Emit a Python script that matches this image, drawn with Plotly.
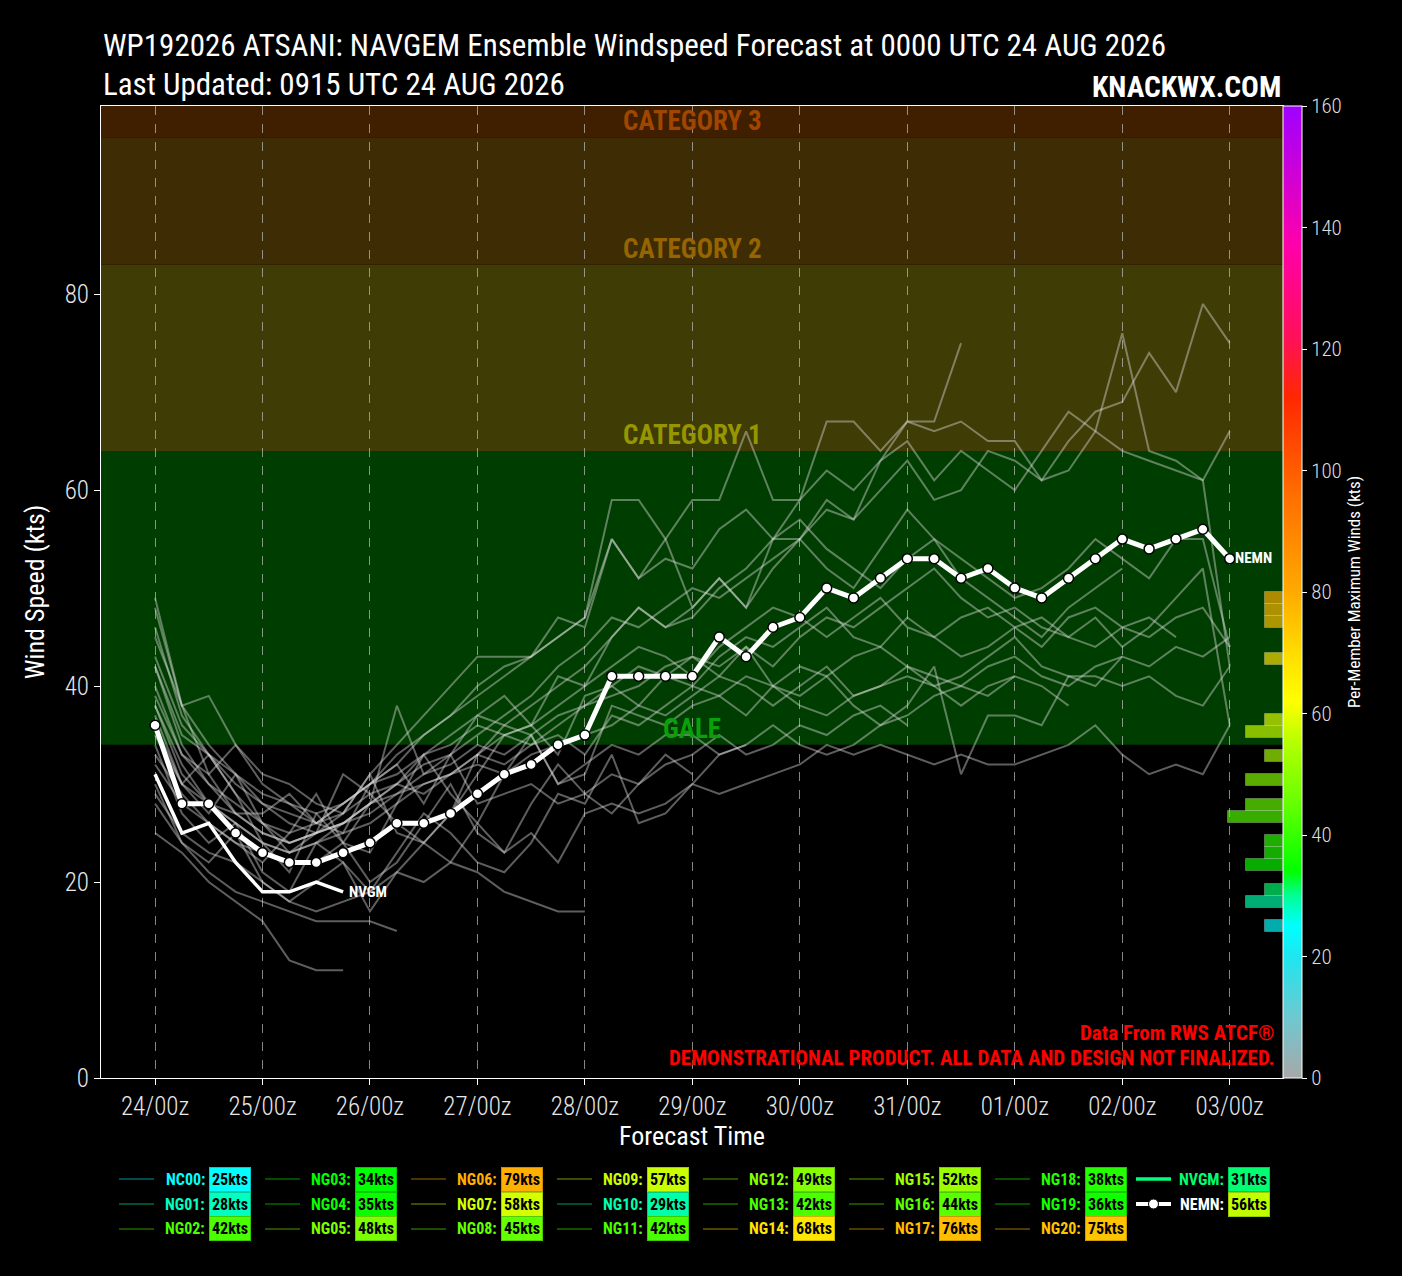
import numpy as np
import plotly.graph_objects as go

FONT = "Roboto Condensed, Noto Sans Condensed, Roboto, sans-serif"

# ---------------- data ----------------
forecast_hours = list(range(0, 241, 6))
tick_hours = list(range(0, 241, 24))
tick_labels = ["24/00z", "25/00z", "26/00z", "27/00z", "28/00z", "29/00z",
               "30/00z", "31/00z", "01/00z", "02/00z", "03/00z"]

nemn = [36, 28, 28, 25, 23, 22, 22, 23, 24, 26, 26, 27, 29, 31, 32, 34, 35, 41, 41, 41, 41,
        45, 43, 46, 47, 50, 49, 51, 53, 53, 51, 52, 50, 49, 51, 53, 55, 54, 55, 56, 53]
nvgm = [31, 25, 26, 22, 19, 19, 20, 19]

nc00 = [25, 23, 20, 18, 16, 12, 11, 11]
ng01 = [28, 24, 21, 19, 18, 17, 16, 16, 16, 15]
ng02 = [38, 31, 28, 26, 24, 23, 24, 26, 27, 29, 30, 31, 32, 31, 33, 34, 35, 36, 38, 37,
        39, 41, 40, 38, 40, 42, 39, 40, 41, 40, 38, 40, 41]
ng03 = [34, 27, 24, 26, 21, 19, 24, 22, 19, 23, 27, 25, 22, 21, 24, 29, 28, 33, 26, 27, 30, 33, 34]
ng04 = [35, 30, 33, 29, 24, 21, 27, 24, 20, 22, 26, 30, 25, 23, 28, 32, 29, 27, 30, 33, 31]
ng05 = [46, 37, 33, 31, 28, 27, 26, 28, 30, 31, 33, 34, 36, 35, 34, 36, 38, 40, 42, 41,
        40, 43, 45, 44, 46, 48, 45, 44, 47, 45, 43, 44, 46, 47, 45, 44, 46, 47, 45]
ng06 = [48, 38, 34, 31, 29, 28, 27, 28, 30, 32, 35, 37, 40, 42, 43, 45, 47, 59, 59, 55,
        48, 51, 48, 55, 55, 58, 57, 63, 67, 66, 67, 65, 65, 61, 65, 68, 69, 74, 70, 79, 75]
ng07 = [43, 36, 33, 30, 28, 26, 25, 26, 28, 30, 32, 33, 35, 37, 39, 42, 44, 47, 46, 48,
        50, 49, 51, 53, 55, 52, 50, 54, 58, 55, 53, 51, 49, 50, 52, 55, 53, 51, 55, 55, 44]
ng08 = [45, 38, 31, 34, 30, 28, 26, 27, 31, 25, 24, 27, 33, 36, 35, 30, 31, 38, 37, 36,
        38, 39, 37, 40, 42, 41, 43, 44, 42, 40, 41, 43, 45, 42, 41, 40, 43, 42, 44, 43, 45]
ng09 = [49, 38, 39, 34, 31, 30, 28, 27, 29, 30, 33, 35, 37, 36, 38, 40, 42, 45, 48, 46,
        47, 50, 52, 55, 57, 54, 52, 50, 53, 55, 51, 49, 47, 45, 48, 50, 52]
ng10 = [29, 25, 23, 22, 20, 18, 17, 18, 19, 21, 20, 22, 21, 19, 18, 17, 17]
ng11 = [42, 34, 30, 27, 25, 24, 25, 26, 28, 30, 29, 31, 33, 32, 34, 35, 33, 37, 36, 38,
        40, 39, 41, 40, 38, 37, 39, 40, 42, 41, 40, 39, 41, 40, 38]
ng12 = [40, 33, 31, 27, 27, 29, 26, 25, 30, 32, 28, 33, 37, 39, 36, 41, 40, 42, 44, 43,
        41, 44, 46, 48, 47, 45, 47, 49, 46, 45, 47, 48, 46, 44, 47, 48, 46, 45, 47, 48, 44]
ng13 = [33, 29, 26, 24, 22, 25, 29, 24, 23, 28, 33, 29, 26, 31, 35, 30, 32, 34, 33, 35,
        35, 33, 34, 36, 34, 33, 34, 36, 38, 42, 31, 37, 37, 36, 41, 41, 40, 41, 39, 38, 42]
ng14 = [39, 33, 30, 28, 26, 25, 26, 28, 30, 33, 35, 37, 39, 41, 43, 45, 47, 55, 51, 53,
        52, 56, 58, 55, 59, 62, 60, 63, 65, 61, 64, 62, 60, 64, 68, 66, 64, 63, 62, 61, 66]
ng15 = [36, 30, 28, 27, 25, 24, 25, 26, 28, 29, 31, 32, 34, 33, 35, 37, 38, 39, 40, 42,
        43, 41, 44, 42, 45, 47, 46, 48, 50, 52, 49, 47, 48, 46, 45, 47, 44, 46, 49, 52, 36]
ng16 = [37, 30, 27, 31, 26, 23, 25, 31, 29, 26, 24, 27, 31, 35, 36, 33, 39, 40, 38, 41,
        43, 42, 44, 40, 39, 41, 38, 36, 37, 39, 40, 42, 43, 41, 40, 42, 43]
ng17 = [38, 32, 28, 26, 24, 23, 24, 25, 26, 28, 30, 31, 33, 35, 36, 38, 40, 45, 48, 46,
        48, 51, 48, 52, 55, 59, 57, 60, 63, 59, 60, 64, 63, 61, 62, 66, 76, 64, 63, 61, 42]
ng18 = [32, 28, 26, 24, 23, 22, 22, 24, 28, 38, 31, 33, 28, 29, 30, 28, 29, 31, 30, 32,
        33, 35, 33, 34, 36, 35, 37, 38, 36]
ng19 = [30, 24, 22, 25, 20, 18, 20, 22, 17, 21, 24, 22, 26, 23, 25, 22, 27, 28, 27, 28,
        30, 29, 30, 31, 32, 34, 33, 34, 33, 32, 33, 32, 32, 33, 34, 36, 33, 31, 32, 31, 36]
ng20 = [42, 35, 33, 29, 26, 24, 25, 27, 31, 34, 37, 40, 43, 43, 43, 47, 46, 55, 51, 55,
        59, 59, 66, 59, 59, 67, 67, 64, 67, 67, 75]

member_names = ["NC00", "NG01", "NG02", "NG03", "NG04", "NG05", "NG06", "NG07", "NG08", "NG09",
                "NG10", "NG11", "NG12", "NG13", "NG14", "NG15", "NG16", "NG17", "NG18", "NG19", "NG20"]
member_series = [nc00, ng01, ng02, ng03, ng04, ng05, ng06, ng07, ng08, ng09,
                 ng10, ng11, ng12, ng13, ng14, ng15, ng16, ng17, ng18, ng19, ng20]

band_names = ["GALE", "CATEGORY 1", "CATEGORY 2", "CATEGORY 3"]
band_lows = [34, 64, 83, 96]
band_highs = [64, 83, 96, 99.2]

# ---------------- styling ----------------
band_fill = ["rgb(0,61,0)", "rgb(64,60,6)", "rgb(62,44,4)", "rgb(64,30,0)"]
band_text = ["rgb(10,160,10)", "rgb(150,150,0)", "rgb(150,100,0)", "rgb(160,70,0)"]

cmap_vals = [0, 10, 20, 25, 30, 34, 45, 55, 62, 70, 80, 96, 112, 122, 137, 160]
cmap_rgb = [(168, 168, 168), (110, 200, 208), (30, 230, 240), (0, 255, 255), (0, 255, 150),
            (0, 255, 0), (100, 255, 0), (180, 255, 0), (255, 255, 0), (255, 220, 0),
            (255, 170, 0), (255, 110, 0), (255, 40, 0), (255, 16, 90), (255, 0, 170), (160, 0, 255)]


def cmap(v):
    return tuple(int(round(np.interp(v, cmap_vals, [c[k] for c in cmap_rgb]))) for k in range(3))


def rgb(c, a=None):
    if a is None:
        return "rgb(%d,%d,%d)" % c
    return "rgba(%d,%d,%d,%.2f)" % (c[0], c[1], c[2], a)


colorscale = [[v / 160.0, rgb(c)] for v, c in zip(cmap_vals, cmap_rgb)]

L, R, T, B = 101, 1283, 106, 1078
PW, PH = R - L, B - T


def px(x):
    return (x - L) / PW


def py(y):
    return (B - y) / PH


fig = go.Figure()

# ---------------- histogram of per-member maxima ----------------
member_max = [max(s) for s in member_series]
all_max = member_max + [max(nvgm), max(nemn)]
edges = np.arange(0, 162, 2)
counts, _ = np.histogram(all_max, bins=edges)
centers = (edges[:-1] + edges[1:]) / 2
nz = counts > 0
fig.add_trace(go.Bar(
    x=counts[nz], y=centers[nz], orientation="h", width=2, base=0,
    xaxis="x2", yaxis="y2",
    marker=dict(color=[rgb(cmap(c), 0.68) for c in centers[nz]],
                line=dict(color="rgba(255,255,255,0.25)", width=1)),
    hoverinfo="skip"))

# ---------------- member lines ----------------
for name, s in zip(member_names, member_series):
    fig.add_trace(go.Scatter(
        x=forecast_hours[:len(s)], y=s, mode="lines", name=name,
        line=dict(color="rgba(225,225,225,0.42)", width=2), hoverinfo="skip"))

fig.add_trace(go.Scatter(x=forecast_hours[:len(nvgm)], y=nvgm, mode="lines", name="NVGM",
                         line=dict(color="white", width=3.5), hoverinfo="skip"))
fig.add_trace(go.Scatter(x=forecast_hours[:len(nemn)], y=nemn, mode="lines+markers", name="NEMN",
                         line=dict(color="white", width=5),
                         marker=dict(size=10, color="white", line=dict(color="black", width=1.5)),
                         hoverinfo="skip"))

fig.add_trace(go.Scatter(
    x=[-1000], y=[-1000], mode="markers", showlegend=False, hoverinfo="skip",
    marker=dict(color=[0], cmin=0, cmax=160, colorscale=colorscale, showscale=True,
                colorbar=dict(x=1.0, xanchor="left", xpad=0, y=0.5, yanchor="middle", ypad=0,
                              len=1, lenmode="fraction", thickness=19,
                              outlinecolor="white", outlinewidth=1,
                              tickvals=list(range(0, 161, 20)), ticks="outside", ticklen=5,
                              tickcolor="white",
                              tickfont=dict(family=FONT, size=21, color="#dddddd", weight=300),
                              title=dict(text="Per-Member Maximum Winds (kts)", side="right",
                                         font=dict(family=FONT, size=17, color="white"))))))

shapes = []
annotations = []

for lo, hi, fill, name, tc in zip(band_lows, band_highs, band_fill, band_names, band_text):
    shapes.append(dict(type="rect", xref="paper", yref="y", x0=0, x1=1, y0=lo, y1=hi,
                       fillcolor=fill, line=dict(width=0), layer="below"))
    annotations.append(dict(x=120, y=lo, xref="x", yref="y", text="<b>%s</b>" % name,
                            showarrow=False, xanchor="center", yanchor="bottom", yshift=-2,
                            font=dict(family=FONT, size=27, color=tc)))

annotations.append(dict(x=forecast_hours[len(nemn) - 1], y=nemn[-1], xref="x", yref="y",
                        text="<b>NEMN</b>", showarrow=False, xanchor="left", xshift=3, yshift=1,
                        font=dict(family=FONT, size=15, color="white")))
annotations.append(dict(x=forecast_hours[len(nvgm) - 1], y=nvgm[-1], xref="x", yref="y",
                        text="<b>NVGM</b>", showarrow=False, xanchor="left", xshift=4,
                        font=dict(family=FONT, size=15, color="white")))

annotations.append(dict(x=0, y=py(45), xref="paper", yref="paper", xanchor="left", yanchor="middle",
                        text="WP192026 ATSANI: NAVGEM Ensemble Windspeed Forecast at 0000 UTC 24 AUG 2026",
                        showarrow=False, font=dict(family=FONT, size=31, color="white")))
annotations.append(dict(x=0, y=py(84), xref="paper", yref="paper", xanchor="left", yanchor="middle",
                        text="Last Updated: 0915 UTC 24 AUG 2026",
                        showarrow=False, font=dict(family=FONT, size=31, color="white")))
annotations.append(dict(x=1, y=py(87), xref="paper", yref="paper", xanchor="right", yanchor="middle",
                        text="<b>KNACKWX.COM</b>",
                        showarrow=False, font=dict(family=FONT, size=29.5, color="white")))
annotations.append(dict(x=px(1277), y=py(1033), xref="paper", yref="paper", xanchor="right", yanchor="middle",
                        text="<b>Data From RWS ATCF®</b>",
                        showarrow=False, font=dict(family=FONT, size=21, color="rgb(255,0,0)")))
annotations.append(dict(x=px(1277), y=py(1058), xref="paper", yref="paper", xanchor="right", yanchor="middle",
                        text="<b>DEMONSTRATIONAL PRODUCT. ALL DATA AND DESIGN NOT FINALIZED.</b>",
                        showarrow=False, font=dict(family=FONT, size=21, color="rgb(255,0,0)")))

# ---------------- custom legend ----------------
legend_names = member_names + ["NVGM", "NEMN"]
legend_vals = member_max + [max(nvgm), max(nemn)]
row_y = [1179, 1204, 1229]
for k, (name, val) in enumerate(zip(legend_names, legend_vals)):
    col, row = divmod(k, 3)
    c0 = 119 + 146 * col if col < 7 else 1136
    yy = py(row_y[row])
    col_rgb = cmap(val)
    if name == "NVGM":
        name_col = rgb(cmap(val))
        shapes.append(dict(type="line", xref="paper", yref="paper", x0=px(c0), x1=px(c0 + 35),
                           y0=yy, y1=yy, line=dict(color="rgb(0,255,128)", width=3.5)))
    elif name == "NEMN":
        name_col = "white"
        shapes.append(dict(type="line", xref="paper", yref="paper", x0=px(c0), x1=px(c0 + 35),
                           y0=yy, y1=yy, line=dict(color="white", width=4)))
        shapes.append(dict(type="circle", xref="paper", yref="paper", xsizemode="pixel",
                           ysizemode="pixel", xanchor=px(c0 + 17.5), yanchor=yy,
                           x0=-5, x1=5, y0=-5, y1=5, fillcolor="white",
                           line=dict(color="black", width=1)))
    else:
        name_col = rgb(col_rgb)
        dark = tuple(int(v * 0.3) for v in col_rgb)
        shapes.append(dict(type="line", xref="paper", yref="paper", x0=px(c0), x1=px(c0 + 35),
                           y0=yy, y1=yy, line=dict(color=rgb(dark), width=2)))
    box_x = c0 + 90 if col < 7 else c0 + 92
    annotations.append(dict(x=px(box_x - 2), y=yy, xref="paper", yref="paper", xanchor="right",
                            yanchor="middle", text="<b>%s:</b>" % name, showarrow=False,
                            font=dict(family=FONT, size=16, color=name_col)))
    annotations.append(dict(x=px(box_x), y=yy, xref="paper", yref="paper", xanchor="left",
                            yanchor="middle", text="<b>%dkts</b>" % val, showarrow=False,
                            bgcolor=rgb(col_rgb), bordercolor=rgb(tuple(int(v * 0.8) for v in col_rgb)),
                            borderwidth=1, borderpad=2,
                            font=dict(family=FONT, size=16, color="black")))

fig.update_layout(
    width=1402, height=1276,
    margin=dict(l=L, r=1402 - R, t=T, b=1276 - B),
    paper_bgcolor="black", plot_bgcolor="black",
    showlegend=False, hovermode=False,
    shapes=shapes, annotations=annotations,
    bargap=0,
    xaxis=dict(range=[-12.07, 251.9], tickvals=tick_hours, ticktext=tick_labels,
               showgrid=True, gridcolor="rgba(190,190,190,0.7)", griddash="dash", gridwidth=1,
               zeroline=False, showline=True, linecolor="white", linewidth=1, mirror=True,
               ticks="outside", ticklen=6, tickcolor="white",
               tickfont=dict(family=FONT, size=25, color="#e6e6e6", weight=300),
               title=dict(text="Forecast Time", standoff=4,
                          font=dict(family=FONT, size=26, color="white"))),
    yaxis=dict(range=[0, 99.2], tickvals=[0, 20, 40, 60, 80], showgrid=False, zeroline=False,
               showline=True, linecolor="white", linewidth=1, mirror=True,
               ticks="outside", ticklen=6, tickcolor="white",
               tickfont=dict(family=FONT, size=25, color="#e6e6e6", weight=300),
               title=dict(text="Wind Speed (kts)", standoff=12,
                          font=dict(family=FONT, size=26, color="white"))),
    xaxis2=dict(overlaying="x", anchor="y2", range=[64.6, 0], visible=False),
    yaxis2=dict(overlaying="y", anchor="x2", range=[0, 160], visible=False),
)

fig.write_html("out.html", config={"displayModeBar": False},
               post_script="document.body.style.margin='0';document.body.style.background='black';")
